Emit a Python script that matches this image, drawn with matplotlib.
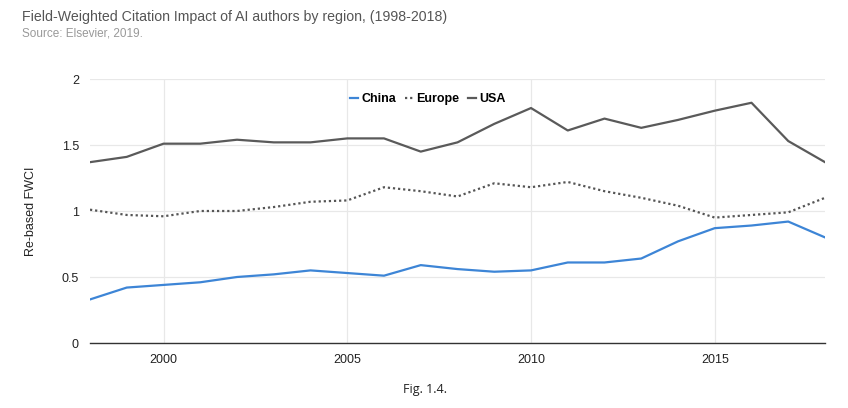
import matplotlib
matplotlib.use("Agg")
import matplotlib.pyplot as plt

plt.rcParams['font.family'] = ['Liberation Sans', 'DejaVu Sans']

years = list(range(1998, 2019))
china = [0.33, 0.42, 0.44, 0.46, 0.50, 0.52, 0.55, 0.53, 0.51, 0.59, 0.56,
         0.54, 0.55, 0.61, 0.61, 0.64, 0.77, 0.87, 0.89, 0.92, 0.80]
europe = [1.01, 0.97, 0.96, 1.00, 1.00, 1.03, 1.07, 1.08, 1.18, 1.15, 1.11,
          1.21, 1.18, 1.22, 1.15, 1.10, 1.04, 0.95, 0.97, 0.99, 1.10]
usa = [1.37, 1.41, 1.51, 1.51, 1.54, 1.52, 1.52, 1.55, 1.55, 1.45, 1.52,
       1.66, 1.78, 1.61, 1.70, 1.63, 1.69, 1.76, 1.82, 1.53, 1.37]
xticks = [2000, 2005, 2010, 2015]
yticks = [0, 0.5, 1, 1.5, 2]
ytick_labels = ['0', '0.5', '1', '1.5', '2']

fig = plt.figure(figsize=(8.48, 4.08), dpi=100)
ax = fig.add_axes([90/848, 1-343/408, (825-90)/848, (343-79)/408])

ax.plot(years, china, color='#3d85d6', lw=1.6, label='China')
ax.plot(years, europe, color='#555555', lw=1.6, ls=(0, (1, 1.3)), label='Europe')
ax.plot(years, usa, color='#5a5a5a', lw=1.6, label='USA')

ax.set_xlim(1998, 2018)
ax.set_ylim(0, 2)
ax.set_xticks(xticks)
ax.set_yticks(yticks)
ax.set_yticklabels(ytick_labels)
ax.grid(True, color='#e8e8e8', lw=0.9)
ax.set_axisbelow(True)
for s in ['top', 'right', 'left']:
    ax.spines[s].set_visible(False)
ax.spines['bottom'].set_color('#333333')
ax.spines['bottom'].set_linewidth(1.0)
ax.tick_params(axis='both', length=0, labelsize=9, colors='#222222', pad=8)
ax.set_ylabel('Re-based FWCI', fontsize=9, color='#222222')
ax.yaxis.set_label_coords((37 - 90) / 735, 0.5)

leg = ax.legend(loc='upper center', bbox_to_anchor=(0.46, 0.99), ncol=3, frameon=False,
                handlelength=0.6, handletextpad=0.3, columnspacing=0.7,
                prop={'weight': 'bold', 'size': 9})

fig.text(22/848, 1-17/408, 'Field-Weighted Citation Impact of AI authors by region, (1998-2018)',
         fontsize=10.2, color='#555555', va='center', ha='left')
fig.text(22/848, 1-33/408, 'Source: Elsevier, 2019.', fontsize=8.5, color='#999999',
         va='center', ha='left')
fig.text(425/848, 1-390/408, 'Fig. 1.4.', fontsize=9, color='#222222', va='center',
         ha='center', family=['Open Sans', 'DejaVu Sans'])

fig.savefig('out.png', dpi=100)
